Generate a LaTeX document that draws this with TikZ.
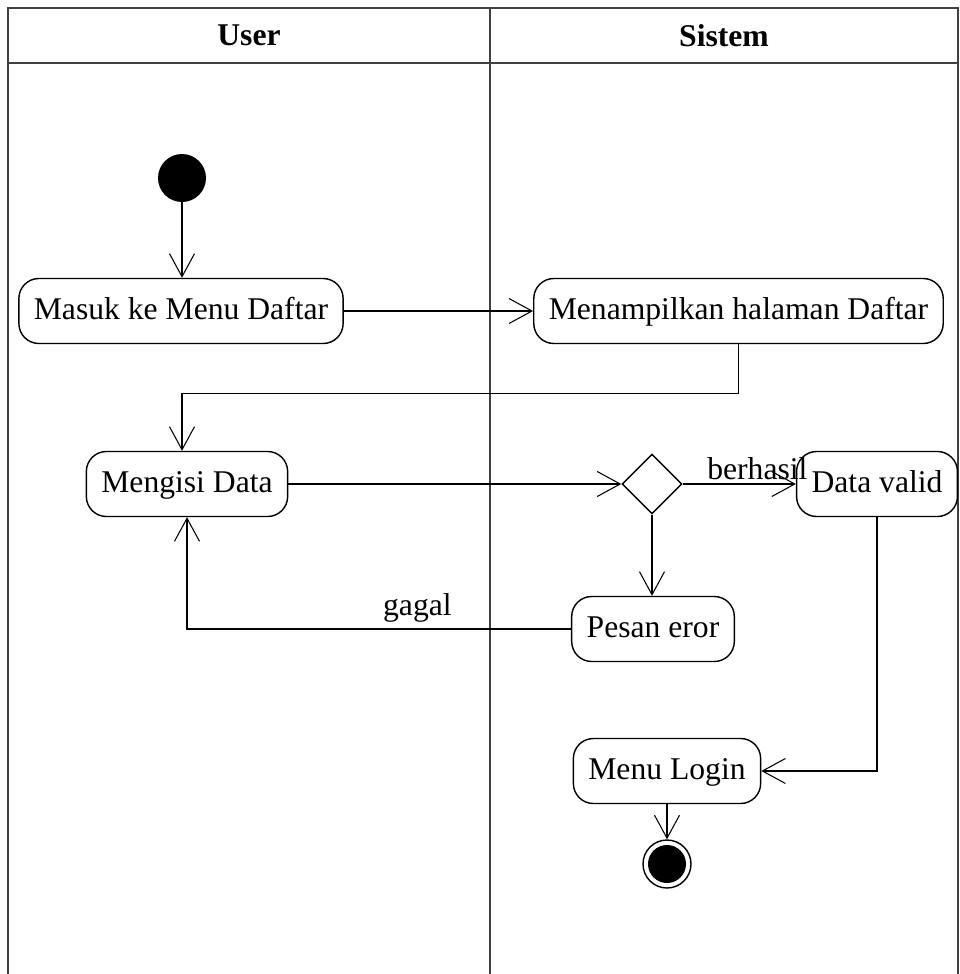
\documentclass[tikz,border=0pt]{standalone}
\usepackage{fontspec}
\setmainfont{Liberation Serif}
\usetikzlibrary{arrows.meta}
\usetikzlibrary{shapes.geometric}
\tikzset{>={Straight Barb[length=0.46cm,width=0.5cm]}}
\tikzstyle{lane}=[draw=black!75,line width=0.9pt]
\tikzstyle{act}=[draw,rounded corners=0.4cm,line width=0.8pt,minimum height=1.3cm,inner xsep=0.3cm,text height=0.45cm,text depth=0.12cm,font=\fontsize{18}{22}\selectfont]
\tikzstyle{flow}=[->,line width=0.6pt]
\tikzstyle{lbl}=[font=\fontsize{18}{22}\selectfont]

\begin{document}
\begin{tikzpicture}
    \useasboundingbox (0,0) rectangle (19.2,-19.48);
    % swimlanes
    \draw[lane] (0.16,-19.48) |- (19.16,-0.16) -- (19.16,-19.48);
    \draw[lane] (0.16,-1.26) -- (19.16,-1.26);
    \draw[lane] (9.8,-0.16) -- (9.8,-19.48);
    \node[lbl,font=\fontsize{18}{22}\selectfont\bfseries] (user) at (4.98,-0.71) {User};
    \node[lbl,font=\fontsize{18}{22}\selectfont\bfseries] (sistem) at (14.48,-0.71) {Sistem};

    \fill (3.64,-3.56) circle (0.48);
    \coordinate (start) at (3.64,-4.04);
    \node[act] (masuk) at (3.62,-6.22) {Masuk ke Menu Daftar};
    \node[act] (tampil) at (14.77,-6.22) {Menampilkan halaman Daftar};
    \node[act] (isi) at (3.74,-9.68) {Mengisi Data};
    \node[draw,diamond,line width=0.8pt,minimum size=1.2cm,inner sep=0pt] (cek) at (13.04,-9.68) {};
    \node[act] (valid) at (17.54,-9.68) {Data valid};
    \node[act] (pesan) at (13.06,-12.58) {Pesan eror};
    \node[act] (login) at (13.34,-15.42) {Menu Login};
    \node[draw,circle,line width=0.8pt,minimum size=0.96cm] (selesai) at (13.34,-17.28) {};
    \fill (selesai) circle (0.38);

    \draw[flow] (start) -- (masuk.north -| start);
    \draw[flow] (masuk) -- (tampil);
    \draw[flow] (tampil.south) -- ++(0,-0.98) -| (isi.north -| start);
    \draw[flow] (isi) -- (cek.west);
    \draw[flow] (cek.east) -- node[lbl,pos=0.66,above=-0.05cm] {berhasil} (valid);
    \draw[flow] (cek.south) -- (pesan.north -| cek.south);
    \draw[flow] (pesan.west) -| node[lbl,pos=0.2,above] {gagal} (isi.south);
    \draw[flow] (valid.south) |- (login.east);
    \draw[flow] (login) -- (selesai);
\end{tikzpicture}
\end{document}
